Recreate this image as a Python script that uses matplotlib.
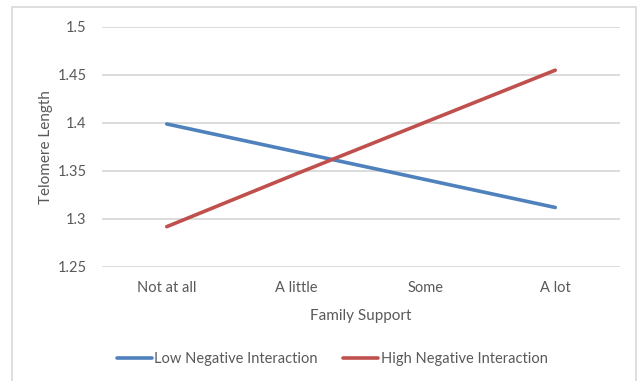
import matplotlib.pyplot as plt
from matplotlib.patches import Rectangle

# Family support levels and mean telomere length per negative-interaction group
categories = ["Not at all", "A little", "Some", "A lot"]
low_neg = [1.399, 1.370, 1.341, 1.312]
high_neg = [1.292, 1.347, 1.401, 1.455]
y_ticks = [1.25, 1.3, 1.35, 1.4, 1.45, 1.5]
y_tick_labels = ["1.25", "1.3", "1.35", "1.4", "1.45", "1.5"]

plt.rcParams['font.family'] = ['Lato', 'DejaVu Sans']
txt = '#595959'
grid = '#D9D9D9'

fig = plt.figure(figsize=(6.38, 3.81), dpi=100)
# outer chart frame (open at the bottom)
fig.patches.append(Rectangle((12/638, -0.05), (636-12)/638, 1.05 - 7/381,
                             transform=fig.transFigure, fill=False,
                             edgecolor=grid, linewidth=1.2))

ax = fig.add_axes([102/638, 1-267/381, 518/638, 240/381])
x = range(len(categories))
ax.plot(x, low_neg, color='#4F81BD', linewidth=2.6, solid_capstyle='round',
        label="Low Negative Interaction")
ax.plot(x, high_neg, color='#C0504D', linewidth=2.6, solid_capstyle='round',
        label="High Negative Interaction")

ax.set_xlim(-0.5, len(categories) - 0.5)
ax.set_ylim(1.25, 1.5)
ax.set_yticks(y_ticks)
ax.set_yticklabels(y_tick_labels)
ax.set_xticks(list(x))
ax.set_xticklabels(categories)
ax.yaxis.grid(True, color=grid, linewidth=1.3)
ax.set_axisbelow(True)
for s in ax.spines.values():
    s.set_visible(False)
ax.tick_params(length=0, labelsize=10.5, colors=txt)
ax.tick_params(axis='y', pad=11)
ax.tick_params(axis='x', pad=10)

ax.set_xlabel("Family Support", fontsize=11, color=txt, labelpad=10)
ax.set_ylabel("Telomere Length", fontsize=11, color=txt, labelpad=3)

ax.legend(loc='center', bbox_to_anchor=(0.5 + (332-361)/518, -0.385), ncol=2,
          frameon=False, fontsize=10.5, labelcolor=txt, handlelength=2.4,
          handletextpad=0.2, columnspacing=1.7)

fig.savefig("out.png", dpi=100)
